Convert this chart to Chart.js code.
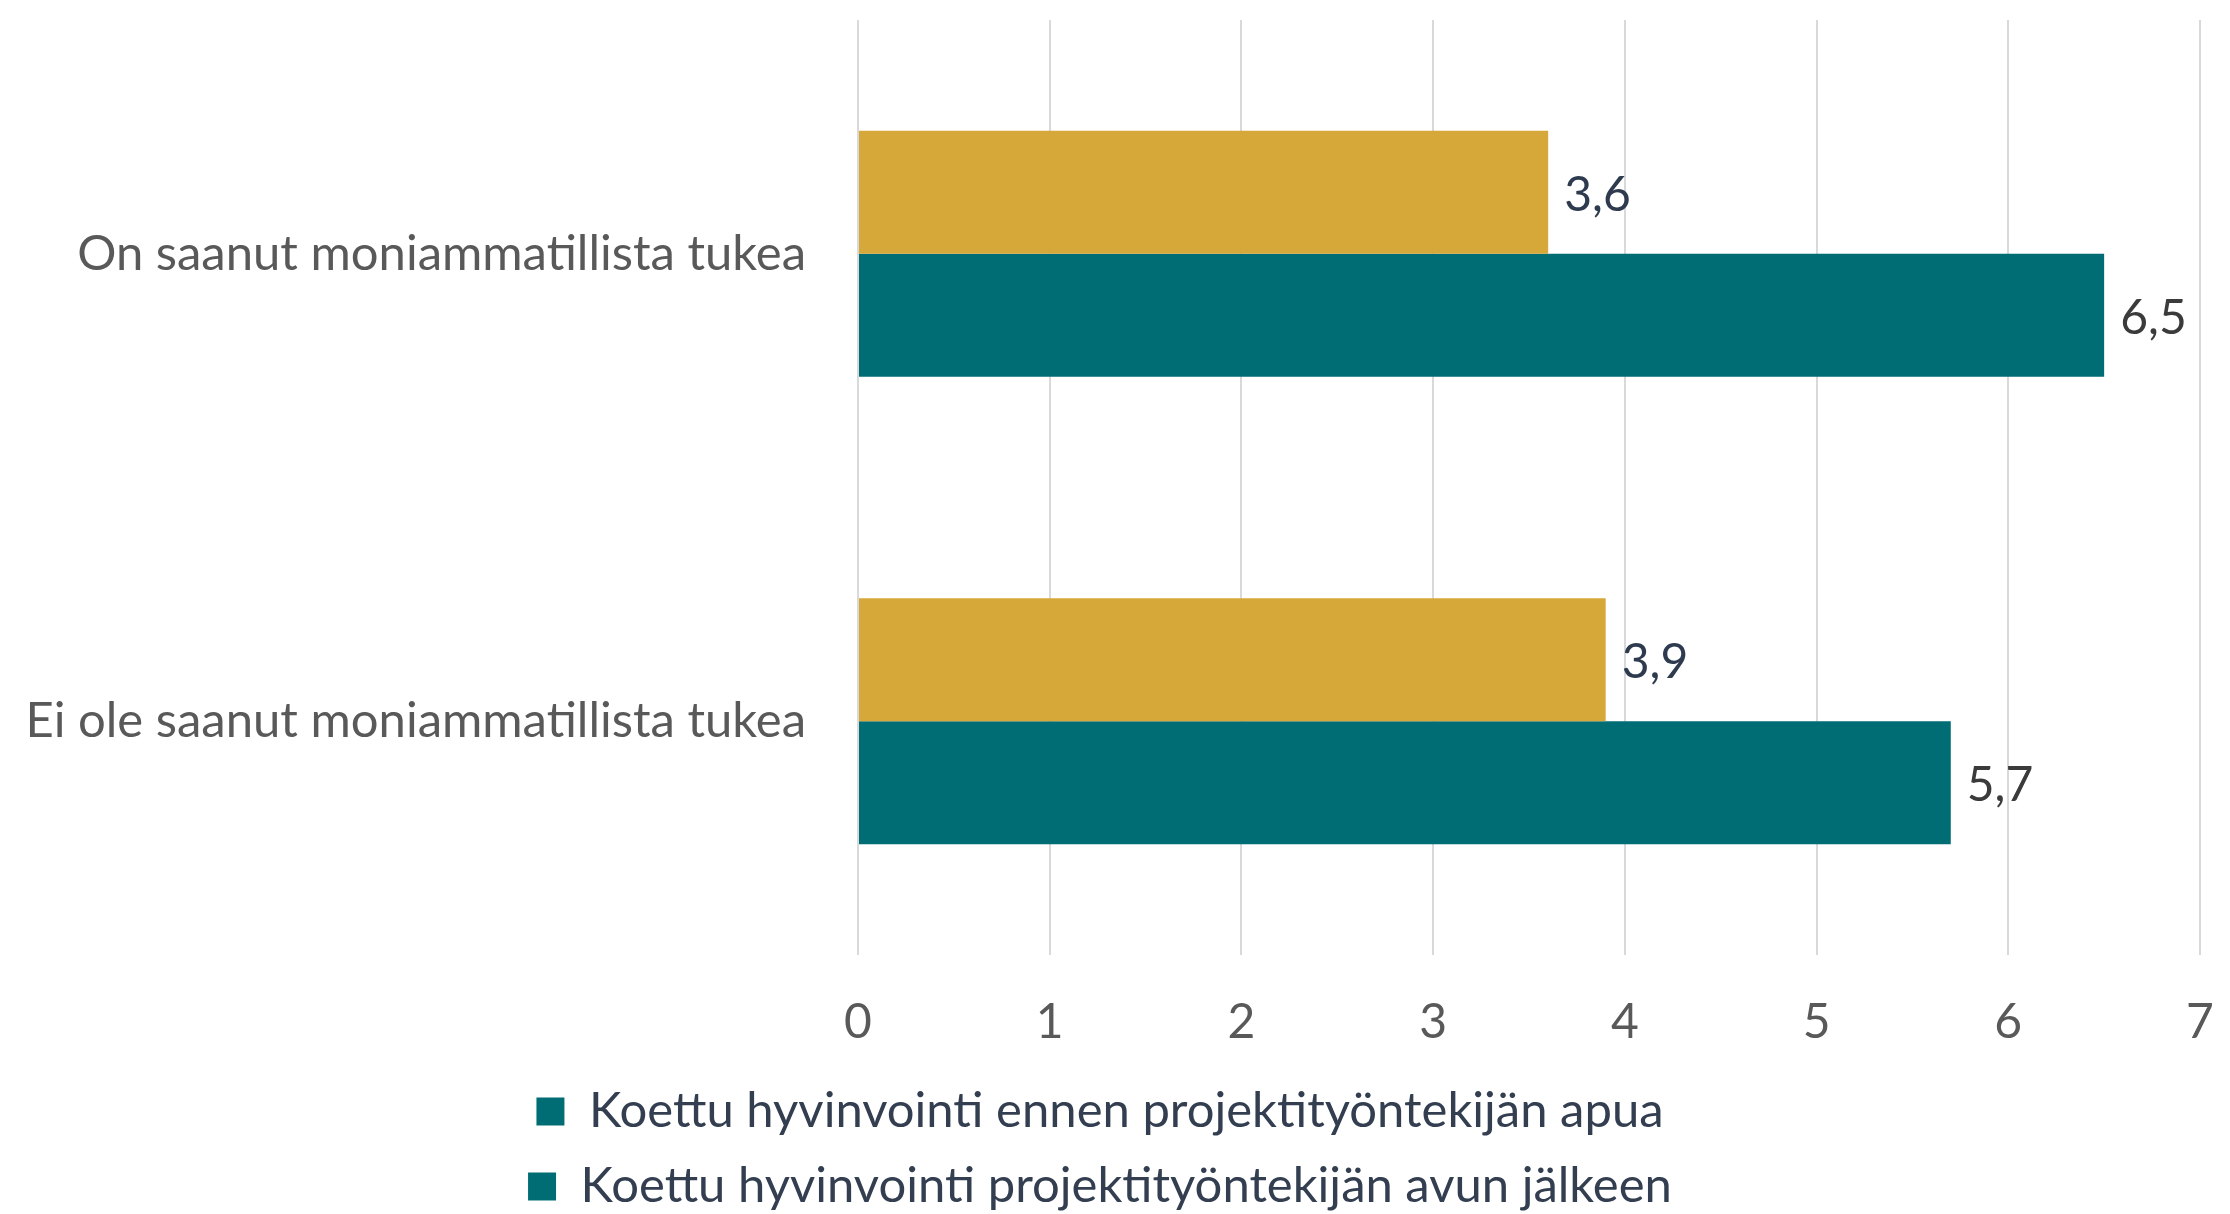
<!DOCTYPE html>
<html>
<head>
<meta charset="utf-8">
<script src="https://cdn.jsdelivr.net/npm/chart.js@4"></script>
<style>
  html, body { margin: 0; padding: 0; background: #fff; }
  #wrap { width: 2230px; height: 1214px; }
</style>
</head>
<body>
<div id="wrap"><canvas id="barChartWellbeing"></canvas></div>
<script>
const categories = ["On saanut moniammatillista tukea", "Ei ole saanut moniammatillista tukea"];
const seriesNames = ["Koettu hyvinvointi ennen projektityöntekijän apua", "Koettu hyvinvointi projektityöntekijän avun jälkeen"];
const beforeValues = [3.6, 3.9];
const afterValues = [6.5, 5.7];
const xTicks = [0, 1, 2, 3, 4, 5, 6, 7];

const barColors = ["#D6A83A", "#006D74"];
const labelColors = ["#2E3B4E", "#3B3B3B"];
const legendColors = ["#006D74", "#006D74"];
const fontFamily = "Lato, 'Open Sans', sans-serif";

const formatValue = (v) => v.toFixed(1).replace(".", ",");

// draws value labels at the end of each bar
const valueLabels = {
    id: "valueLabels",
    afterDatasetsDraw(chart) {
        const ctx = chart.ctx;
        ctx.save();
        ctx.font = "48px " + fontFamily;
        ctx.textAlign = "left";
        ctx.textBaseline = "middle";
        chart.data.datasets.forEach((ds, i) => {
            const meta = chart.getDatasetMeta(i);
            meta.data.forEach((bar, j) => {
                ctx.fillStyle = labelColors[i];
                ctx.fillText(formatValue(ds.data[j]), bar.x + 16, bar.y + 3);
            });
        });
        ctx.restore();
    },
};

const ctx = document.getElementById("barChartWellbeing");

new Chart(ctx, {
    type: "bar",
    data: {
        labels: categories,
        datasets: [
            { label: seriesNames[0], data: beforeValues, backgroundColor: barColors[0] },
            { label: seriesNames[1], data: afterValues, backgroundColor: barColors[1] },
        ],
    },
    options: {
        indexAxis: "y",
        responsive: true,
        maintainAspectRatio: false,
        animation: false,
        layout: { padding: { top: 20, right: 30, left: 0, bottom: -7 } },
        datasets: {
            bar: { categoryPercentage: 0.526, barPercentage: 1.0 },
        },
        scales: {
            x: {
                min: 0,
                max: 7,
                afterBuildTicks: (axis) => {
                    axis.ticks = xTicks.map((v) => ({ value: v }));
                },
                afterFit: (axis) => {
                    axis.height = 106;
                    axis.paddingLeft = 0;
                    axis.paddingRight = 0;
                },
                grid: { color: "#D9D9D9", lineWidth: 2, drawTicks: false },
                border: { display: false },
                ticks: {
                    color: "#595959",
                    padding: 39,
                    font: { family: fontFamily, size: 48 },
                },
            },
            y: {
                grid: { display: false },
                border: { display: false },
                afterFit: (axis) => {
                    axis.width = 858;
                    axis.paddingTop = 0;
                    axis.paddingBottom = 0;
                },
                ticks: {
                    color: "#595959",
                    padding: 44,
                    font: { family: fontFamily, size: 49 },
                },
            },
        },
        plugins: {
            tooltip: { enabled: false },
            legend: {
                position: "bottom",
                labels: {
                    color: "#333F50",
                    boxWidth: 28,
                    boxHeight: 28,
                    padding: 26,
                    font: { family: fontFamily, size: 49 },
                    generateLabels: (chart) => {
                        const items = Chart.defaults.plugins.legend.labels.generateLabels(chart);
                        items.forEach((item, i) => {
                            item.fillStyle = legendColors[i];
                            item.strokeStyle = legendColors[i];
                            item.lineWidth = 0;
                        });
                        return items;
                    },
                },
            },
        },
    },
    plugins: [valueLabels],
});
</script>
</body>
</html>
